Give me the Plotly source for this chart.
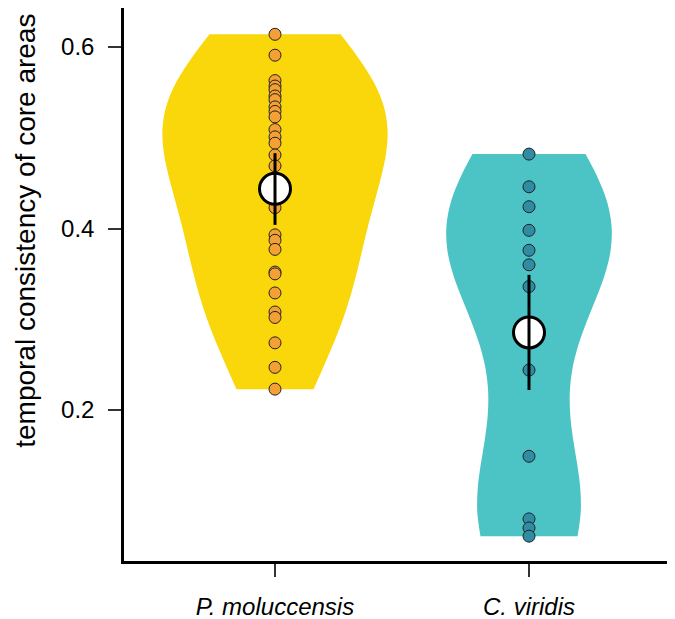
import numpy as np
import plotly.graph_objects as go

categories = ["P. moluccensis", "C. viridis"]

p_values = [0.614, 0.591, 0.563, 0.557, 0.553, 0.546, 0.542, 0.534, 0.529, 0.523,
            0.509, 0.501, 0.494, 0.481, 0.469, 0.453, 0.423, 0.393, 0.387, 0.377,
            0.352, 0.350, 0.329, 0.308, 0.302, 0.274, 0.247, 0.223]
c_values = [0.482, 0.446, 0.424, 0.398, 0.376, 0.360, 0.336, 0.244, 0.149,
            0.080, 0.070, 0.061]

means = [0.4437, 0.2855]
ci_low = [0.404, 0.222]
ci_high = [0.483, 0.349]

y_ticks = [0.2, 0.4, 0.6]
y_tick_labels = ["0.2", "0.4", "0.6"]
y_title = "temporal consistency of core areas"

violin_fill = ["#F9D70B", "#4CC3C4"]
point_fill = ["#F4A034", "#2F8CA3"]
violin_width = [0.886, 0.65]
bandwidths = [0.08, 0.08]

fig = go.Figure()

for cat, vals, vf, w, bw in zip(categories, [p_values, c_values], violin_fill, violin_width, bandwidths):
    fig.add_trace(go.Violin(
        x=[cat] * len(vals), y=vals, name=cat,
        fillcolor=vf, line=dict(color=vf, width=0), opacity=1,
        points=False, box_visible=False, meanline_visible=False,
        spanmode="hard", scalemode="width", width=w, bandwidth=bw,
        hoverinfo="skip", showlegend=False,
    ))

for cat, vals, pf in zip(categories, [p_values, c_values], point_fill):
    fig.add_trace(go.Scatter(
        x=[cat] * len(vals), y=vals, mode="markers",
        marker=dict(size=12, color=pf, line=dict(color="#222222", width=1)),
        showlegend=False,
    ))

fig.add_trace(go.Scatter(
    x=categories, y=means, mode="markers",
    marker=dict(size=31, color="white", line=dict(color="black", width=3)),
    showlegend=False,
))

fig.add_trace(go.Scatter(
    x=categories, y=means, mode="markers",
    marker=dict(size=1, color="rgba(0,0,0,0)"),
    error_y=dict(type="data", symmetric=False,
                 array=[h - m for h, m in zip(ci_high, means)],
                 arrayminus=[m - l for m, l in zip(means, ci_low)],
                 color="black", thickness=3, width=0),
    showlegend=False,
))

fig.update_layout(
    width=667, height=611,
    margin=dict(l=116, r=0, t=0, b=58),
    paper_bgcolor="white", plot_bgcolor="white",
    font=dict(family="Liberation Sans, Arial, sans-serif", color="black"),
    violinmode="overlay",
)
fig.add_annotation(
    text=y_title, textangle=-90, showarrow=False,
    xref="paper", yref="paper", x=-0.178, y=0.597,
    xanchor="center", yanchor="middle",
    font=dict(size=28, color="black"),
)
fig.update_xaxes(
    type="category", categoryorder="array", categoryarray=categories,
    range=[-0.5945, 1.5748],
    showline=True, linecolor="black", linewidth=2.5,
    ticks="outside", ticklen=13, tickwidth=2, tickcolor="#333",
    tickfont=dict(size=24, style="italic"), ticklabelstandoff=9,
    showgrid=False, zeroline=False,
)
fig.update_yaxes(
    range=[0.0336, 0.643],
    tickvals=y_ticks, ticktext=y_tick_labels,
    showline=True, linecolor="black", linewidth=2.5,
    ticks="outside", ticklen=13, tickwidth=2, tickcolor="#333",
    tickfont=dict(size=24), ticklabelstandoff=9,
    showgrid=False, zeroline=False,
)

fig.write_html("out.html")
